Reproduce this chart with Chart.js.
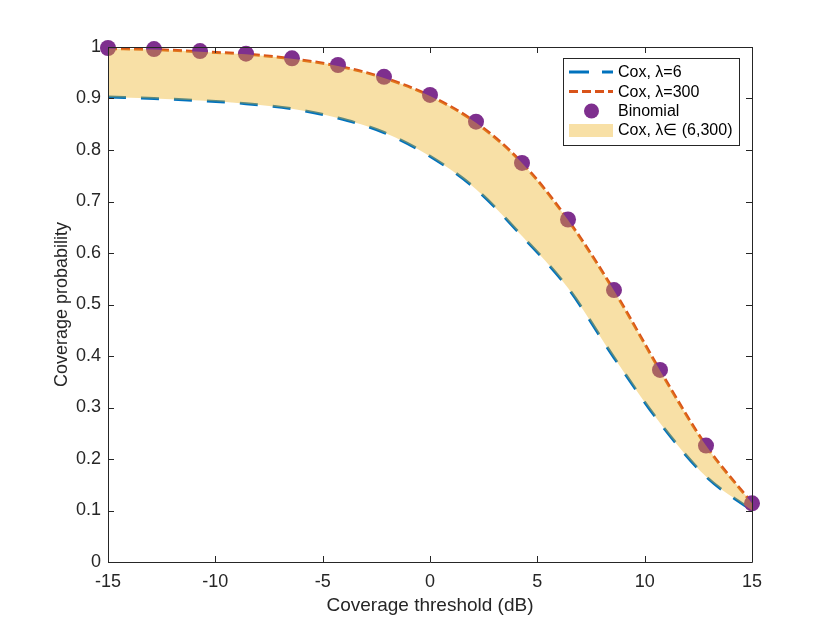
<!DOCTYPE html>
<html>
<head>
<meta charset="utf-8">
<script src="https://cdn.jsdelivr.net/npm/chart.js@4/dist/chart.umd.min.js"></script>
<style>
html,body{margin:0;padding:0;background:#fff;}
#wrap{width:830px;height:631px;position:relative;}
</style>
</head>
<body>
<div id="wrap"><canvas id="c" width="830" height="631"></canvas></div>
<script>
// ---- data ----
const thresholdsDb = [-15, -12.857, -10.714, -8.571, -6.429, -4.286, -2.143, 0, 2.143, 4.286, 6.429, 8.571, 10.714, 12.857, 15];
const coxLambda6 = [0.903, 0.900, 0.896, 0.890, 0.880, 0.862, 0.834, 0.788, 0.724, 0.633, 0.532, 0.397, 0.270, 0.166, 0.100];
const coxLambda300 = [0.997, 0.995, 0.991, 0.986, 0.977, 0.963, 0.940, 0.905, 0.853, 0.775, 0.664, 0.527, 0.372, 0.226, 0.114];
const binomial = [0.998, 0.996, 0.992, 0.987, 0.978, 0.965, 0.942, 0.907, 0.855, 0.775, 0.665, 0.528, 0.373, 0.226, 0.114];
const xTickValues = [-15, -10, -5, 0, 5, 10, 15];
const yTickValues = [0, 0.1, 0.2, 0.3, 0.4, 0.5, 0.6, 0.7, 0.8, 0.9, 1];
const xTickLabels = ['-15', '-10', '-5', '0', '5', '10', '15'];
const yTickLabels = ['0', '0.1', '0.2', '0.3', '0.4', '0.5', '0.6', '0.7', '0.8', '0.9', '1'];
const legendLabels = ['Cox, \u03BB=6', 'Cox, \u03BB=300', 'Binomial', 'Cox, \u03BB\u2208 (6,300)'];

const toPts = arr => arr.map((v, i) => ({x: thresholdsDb[i], y: v}));

const BLUE = '#0072BD', ORANGE = '#D95319', PURPLE = '#7E2F8E', FILL = 'rgba(237,177,32,0.4)';
const TXT = '#262626';
const FONT = '"Liberation Sans", Arial, Helvetica, sans-serif';

const boxTicks = {
  id: 'boxTicks',
  afterDraw(chart) {
    const {ctx, chartArea: a, scales: {x, y}} = chart;
    ctx.save();
    ctx.strokeStyle = TXT;
    ctx.lineWidth = 1;
    ctx.beginPath();
    ctx.rect(a.left + 0.5, a.top + 0.5, a.right - a.left, a.bottom - a.top);
    ctx.stroke();
    const L = 6;
    ctx.beginPath();
    xTickValues.forEach(v => {
      const px = Math.round(x.getPixelForValue(v)) + 0.5;
      ctx.moveTo(px, a.bottom); ctx.lineTo(px, a.bottom - L);
      ctx.moveTo(px, a.top); ctx.lineTo(px, a.top + L);
    });
    yTickValues.forEach(v => {
      const py = Math.round(y.getPixelForValue(v)) + 0.5;
      ctx.moveTo(a.left, py); ctx.lineTo(a.left + L, py);
      ctx.moveTo(a.right, py); ctx.lineTo(a.right - L, py);
    });
    ctx.stroke();

    // legend
    const bx = 563, by = 58, bw = 176, bh = 87;
    ctx.fillStyle = '#fff';
    ctx.fillRect(bx, by, bw, bh);
    ctx.strokeStyle = TXT;
    ctx.strokeRect(bx + 0.5, by + 0.5, bw, bh);
    const rows = [72, 91.5, 111, 130];
    const sx0 = 569, sx1 = 613, tx = 618;
    ctx.lineWidth = 3;
    ctx.strokeStyle = BLUE;
    ctx.setLineDash([20, 13]);
    ctx.beginPath(); ctx.moveTo(sx0, rows[0]); ctx.lineTo(sx1, rows[0]); ctx.stroke();
    ctx.strokeStyle = ORANGE;
    ctx.setLineDash([9, 4]);
    ctx.beginPath(); ctx.moveTo(sx0, rows[1]); ctx.lineTo(sx1, rows[1]); ctx.stroke();
    ctx.setLineDash([]);
    ctx.fillStyle = PURPLE;
    ctx.beginPath(); ctx.arc(591.5, rows[2], 7.5, 0, Math.PI * 2); ctx.fill();
    ctx.fillStyle = FILL;
    ctx.fillRect(sx0, rows[3] - 6, sx1 - sx0, 13);
    ctx.fillStyle = '#000';
    ctx.font = '16px ' + FONT;
    ctx.textBaseline = 'middle';
    ctx.textAlign = 'left';
    legendLabels.forEach((t, i) => ctx.fillText(t, tx, rows[i] + 1));
    ctx.restore();
  }
};

const lineCommon = {
  cubicInterpolationMode: 'monotone',
  pointRadius: 0,
  pointHoverRadius: 0,
  fill: false,
  borderWidth: 3,
  order: 2
};

new Chart(document.getElementById('c'), {
  type: 'line',
  data: {
    datasets: [
      Object.assign({}, lineCommon, {
        label: legendLabels[0], data: toPts(coxLambda6), borderColor: BLUE,
        borderDash: [18, 15]
      }),
      Object.assign({}, lineCommon, {
        label: legendLabels[1], data: toPts(coxLambda300), borderColor: ORANGE,
        borderDash: [9, 4]
      }),
      {
        label: legendLabels[2], data: toPts(binomial), showLine: false,
        pointRadius: 8, pointHoverRadius: 8, pointBackgroundColor: PURPLE,
        pointBorderWidth: 0, borderColor: PURPLE, backgroundColor: PURPLE,
        clip: false, order: 1
      },
      {
        label: legendLabels[3], data: toPts(coxLambda300), cubicInterpolationMode: 'monotone',
        borderWidth: 0, borderColor: 'rgba(0,0,0,0)', pointRadius: 0, pointHoverRadius: 0,
        fill: {target: 0}, backgroundColor: FILL, order: 0
      }
    ]
  },
  options: {
    responsive: false,
    animation: false,
    events: [],
    layout: {padding: {top: 47, right: 78, left: 0, bottom: 0}},
    plugins: {legend: {display: false}, tooltip: {enabled: false}},
    scales: {
      x: {
        type: 'linear', min: -15, max: 15,
        afterBuildTicks: s => { s.ticks = xTickValues.map(v => ({value: v})); },
        afterFit: s => { s.height = 69; },
        grid: {display: false, drawTicks: false},
        border: {display: false},
        ticks: {
          color: TXT, padding: 9, maxRotation: 0, autoSkip: false,
          font: {family: FONT, size: 18},
          callback: (v, i) => xTickLabels[i]
        },
        title: {display: true, text: 'Coverage threshold (dB)', color: TXT,
          font: {family: FONT, size: 19}, padding: {top: 0, bottom: 14}}
      },
      y: {
        type: 'linear', min: 0, max: 1,
        afterBuildTicks: s => { s.ticks = yTickValues.map(v => ({value: v})); },
        afterFit: s => { s.width = 108; },
        grid: {display: false, drawTicks: false},
        border: {display: false},
        ticks: {
          color: TXT, padding: 7, autoSkip: false,
          font: {family: FONT, size: 18},
          callback: (v, i) => yTickLabels[i]
        },
        title: {display: true, text: 'Coverage probability', color: TXT,
          font: {family: FONT, size: 18}, padding: {top: 51, bottom: 0}}
      }
    }
  },
  plugins: [boxTicks]
});
</script>
</body>
</html>
